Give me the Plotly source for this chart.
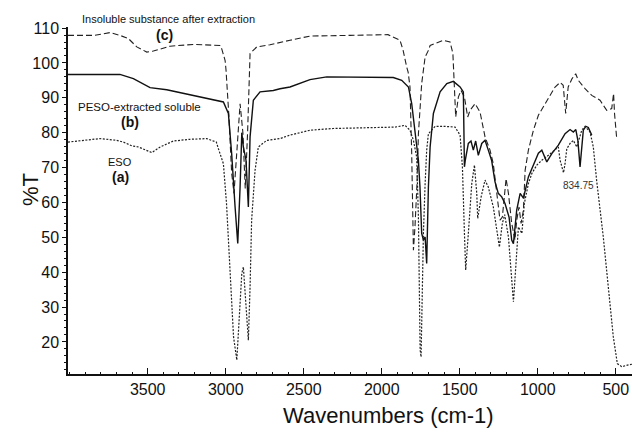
import plotly.graph_objects as go

# ---- data (wavenumber cm-1, %T) ----
eso_x = [4011, 3806, 3700, 3656, 3600, 3560, 3474, 3420, 3336, 3230, 3122, 3060, 3047, 3015, 2995,
         2972, 2950, 2929, 2912, 2897, 2887, 2870, 2855, 2844, 2834, 2812, 2791, 2737, 2652, 2588,
         2460, 2310, 2096, 1915, 1851, 1819, 1797, 1776, 1765, 1761, 1754, 1748, 1740, 1733, 1722,
         1712, 1701, 1658, 1594, 1530, 1498, 1483, 1470, 1462, 1445, 1423, 1406, 1391, 1385, 1363,
         1338, 1317, 1285, 1263, 1246, 1227, 1212, 1188, 1167, 1156, 1141, 1124, 1102, 1086, 1060,
         1038, 1006, 974, 932, 889, 868, 857, 835, 825, 814, 793, 772, 750, 718, 697, 665, 644, 622,
         580, 548, 516, 490, 462, 419, 396]
eso_y = [77.3, 78.3, 77.8, 77.3, 76.2, 75.9, 74.3, 75.9, 77.6, 78.1, 78.3, 77.3, 75.4, 71.1, 59.7,
         40.6, 21.5, 14.8, 26.3, 39.6, 41.5, 31.0, 20.5, 35.8, 54.9, 69.2, 75.9, 77.8, 78.3, 79.3,
         80.7, 81.2, 81.5, 81.6, 82.1, 80.7, 77.8, 73.0, 55.8, 36.8, 17.7, 15.7, 35.0, 51.1, 65.4,
         75.0, 79.7, 81.8, 81.8, 81.6, 79.3, 70.2, 51.1, 40.6, 51.1, 65.4, 70.7, 62.6, 55.4, 61.6,
         66.4, 64.4, 58.7, 52.0, 47.2, 54.0, 56.5, 50.1, 36.8, 31.5, 41.5, 53.0, 51.1, 59.7, 65.4,
         68.3, 70.7, 72.1, 73.5, 75.0, 75.9, 72.1, 68.5, 71.1, 75.4, 76.9, 77.8, 75.9, 80.7, 81.8,
         80.2, 75.9, 66.0, 50.1, 35.8, 21.5, 13.8, 12.9, 13.4, 13.6]

peso_x = [4011, 3678, 3592, 3485, 3378, 3250, 3101, 3015, 2983, 2962, 2940, 2923, 2908, 2897, 2887,
          2870, 2855, 2844, 2823, 2780, 2695, 2652, 2588, 2503, 2460, 2353, 2139, 1926, 1872, 1829,
          1808, 1787, 1765, 1755, 1744, 1733, 1722, 1712, 1701, 1690, 1669, 1626, 1583, 1541, 1510,
          1498, 1477, 1472, 1470, 1465, 1445, 1428, 1413, 1398, 1381, 1359, 1338, 1317, 1296, 1274,
          1253, 1231, 1210, 1184, 1167, 1156, 1135, 1113, 1092, 1060, 1028, 996, 974, 953, 942, 910,
          868, 825, 793, 772, 756, 743, 729, 708, 692, 676, 654]
peso_y = [96.7, 96.7, 95.5, 92.9, 92.3, 91.0, 89.6, 88.8, 85.5, 74.0, 58.7, 48.2, 64.4, 80.0, 75.9,
          72.1, 58.7, 78.8, 89.3, 91.7, 92.1, 92.6, 93.1, 94.5, 95.2, 96.0, 96.0, 95.8, 95.0, 93.1,
          88.3, 80.7, 72.1, 64.4, 51.1, 49.2, 50.1, 42.5, 64.4, 75.9, 85.5, 91.7, 94.1, 94.7, 93.5,
          93.1, 91.7, 80.0, 70.2, 72.0, 76.9, 77.6, 75.0, 77.6, 73.5, 76.9, 77.8, 75.0, 72.1, 65.9,
          62.6, 61.6, 59.7, 55.8, 49.2, 48.2, 57.8, 62.6, 61.2, 67.3, 70.7, 74.1, 75.0, 73.0, 71.6, 74.0,
          76.4, 79.7, 80.9, 80.2, 80.9, 77.8, 70.2, 80.7, 81.8, 81.5, 79.3]

ins_x = [4011, 3840, 3742, 3678, 3624, 3570, 3506, 3464, 3357, 3208, 3037, 3026, 3004, 2998, 2980,
         2962, 2947, 2930, 2908, 2890, 2875, 2860, 2844, 2801, 2716, 2588, 2460, 2203, 1960, 1883,
         1863, 1840, 1831, 1819, 1808, 1797, 1787, 1774, 1765, 1744, 1722, 1701, 1690, 1605, 1562,
         1544, 1535, 1526, 1509, 1492, 1470, 1449, 1434, 1402, 1370, 1338, 1306, 1285, 1270, 1257,
         1242, 1227, 1203, 1188, 1167, 1146, 1135, 1120, 1107, 1092, 1081, 1060, 1028, 996, 953, 932,
         889, 857, 837, 821, 805, 780, 757, 740, 697, 654, 601, 558, 526, 514, 508, 494]
ins_y = [107.9, 107.9, 108.7, 107.9, 107.0, 104.6, 103.1, 103.4, 104.8, 105.3, 105.0, 104.1, 100.7,
         97.9, 85.0, 68.4, 62.6, 75.0, 88.3, 80.0, 64.0, 80.0, 102.7, 104.6, 105.2, 106.5, 107.7,
         107.9, 108.1, 106.5, 103.6, 98.8, 97.4, 93.1, 74.1, 46.3, 53.0, 65.4, 79.7, 94.1, 101.7,
         103.6, 105.0, 106.5, 106.0, 102.7, 93.1, 84.5, 90.2, 92.1, 90.2, 84.5, 86.4, 88.3, 85.9,
         78.8, 75.0, 71.1, 65.4, 60.6, 54.9, 55.8, 66.8, 62.6, 54.0, 49.2, 54.9, 58.7, 54.0, 57.8,
         69.2, 75.0, 80.7, 85.0, 88.3, 90.2, 93.1, 94.4, 93.6, 85.5, 93.1, 95.5, 96.9, 95.0, 92.6,
         90.7, 89.3, 86.4, 86.9, 91.2, 85.5, 78.3]

x_ticks = [3500, 3000, 2500, 2000, 1500, 1000, 500]
y_ticks = [20, 30, 40, 50, 60, 70, 80, 90, 100, 110]

FONT = "Arial, Liberation Sans, sans-serif"
W, H = 632, 432
L, R, T, B = 68, 0, 27, 58


def px(xp):
    return (xp - L) / (W - L - R)


def py(yp):
    return (H - B - yp) / (H - T - B)


fig = go.Figure()
fig.add_trace(go.Scatter(x=ins_x, y=ins_y, mode="lines",
                         line=dict(color="#222", width=1.1, dash="6px,3px")))
fig.add_trace(go.Scatter(x=peso_x, y=peso_y, mode="lines",
                         line=dict(color="#111", width=1.4)))
fig.add_trace(go.Scatter(x=eso_x, y=eso_y, mode="lines",
                         line=dict(color="#222", width=1.2, dash="2px,1.5px")))

labels = [
    ("Insoluble substance after extraction", 168, 19, 11, False),
    ("(c)", 164, 35, 14, True),
    ("PESO-extracted soluble", 139, 107, 11.5, False),
    ("(b)", 130, 122, 14, True),
    ("ESO", 120, 162, 11, False),
    ("(a)", 120, 177, 14, True),
]
for txt, xp, yp, fs, bold in labels:
    fig.add_annotation(x=px(xp), y=py(yp), xref="paper", yref="paper",
                       text=f"<b>{txt}</b>" if bold else txt, showarrow=False,
                       font=dict(family=FONT, size=fs, color="#111"),
                       xanchor="center", yanchor="middle")

fig.add_annotation(x=px(578), y=py(185), xref="paper", yref="paper", text="834.75",
                   showarrow=False, font=dict(family=FONT, size=10, color="#333"),
                   xanchor="center", yanchor="middle")

fig.add_annotation(x=px(388), y=py(416), xref="paper", yref="paper",
                   text="Wavenumbers (cm-1)", showarrow=False,
                   font=dict(family=FONT, size=22, color="#111"),
                   xanchor="center", yanchor="middle")
fig.add_annotation(x=px(30), y=py(190), xref="paper", yref="paper",
                   text="%T", showarrow=False, textangle=-90,
                   font=dict(family=FONT, size=22, color="#111"),
                   xanchor="center", yanchor="middle")

fig.update_layout(
    width=W, height=H,
    margin=dict(l=L, r=R, t=T, b=B),
    paper_bgcolor="white", plot_bgcolor="white",
    showlegend=False,
    font=dict(family=FONT, color="#111"),
)
fig.update_xaxes(range=[4011, 396], tickvals=x_ticks, showgrid=False, zeroline=False,
                 showline=True, linecolor="#111", linewidth=1.5,
                 ticks="inside", ticklen=6, tickwidth=1.2, tickcolor="#111",
                 tickfont=dict(family=FONT, size=16, color="#111"),
                 minor=dict(dtick=100, ticks="inside", ticklen=2, tickcolor="#111", showgrid=False))
fig.update_yaxes(range=[10.8, 110.3], tickvals=y_ticks, showgrid=False, zeroline=False,
                 showline=True, linecolor="#111", linewidth=1.5,
                 ticks="outside", ticklen=4, tickwidth=1.2, tickcolor="#111",
                 tickfont=dict(family=FONT, size=16, color="#111"),
                 minor=dict(dtick=2, tick0=0, ticks="outside", ticklen=2, tickcolor="#111", showgrid=False))

fig.write_html("out.html")
